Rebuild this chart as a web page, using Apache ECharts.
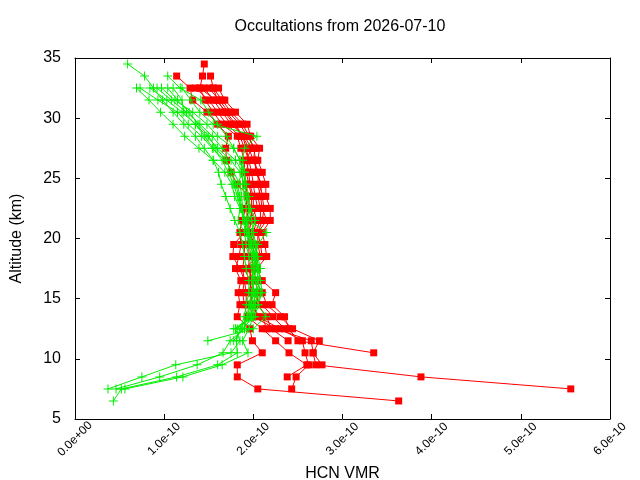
<!DOCTYPE html>
<html>
<head>
<meta charset="utf-8">
<script src="https://cdn.jsdelivr.net/npm/echarts@6/dist/echarts.min.js"></script>
<style>html,body{margin:0;padding:0;background:#fff}#chart{width:640px;height:480px}</style>
</head>
<body>
<div id="chart"></div>
<script>
// Altitude levels (km), top to bottom
const altitudes = [34.5,33.5,32.5,31.5,30.5,29.5,28.5,27.5,26.5,25.5,24.5,23.5,22.5,21.5,20.5,19.5,18.5,17.5,16.5,15.5,14.5,13.5,12.5,11.5,10.5,9.5,8.5,7.5,6.5];
// HCN VMR values in units of 1e-10 (null = no data at that level)
const red1 = [1.45,1.43,1.40,1.46,1.55,1.65,1.82,1.86,1.90,1.90,1.92,1.93,1.92,1.87,1.85,1.86,1.84,1.80,1.86,1.83,1.85,1.82,1.96,1.99,2.10,1.82,1.82,2.05,3.63];
const red2 = [null,1.14,1.29,1.32,1.48,1.60,1.72,1.69,1.70,1.75,1.82,1.95,1.95,1.92,1.90,1.78,1.77,1.85,1.90,1.88,1.90,1.93,2.10,2.25,2.40,2.60,2.38,null,null];
const red3 = [null,1.52,1.55,1.60,1.68,1.78,1.88,1.95,2.00,2.05,2.08,2.10,2.12,2.10,2.05,2.05,2.08,2.00,2.03,2.10,2.15,2.30,2.44,2.74,2.67,2.70,3.88,5.56,null];
const red4 = [null,null,1.61,1.68,1.80,1.93,1.97,2.07,2.05,2.10,2.14,2.14,2.19,2.19,2.10,2.13,2.15,2.04,2.10,2.25,2.21,2.35,2.40,2.50,3.35,null,null,null,null];
const red5 = [null,null,1.35,1.50,1.60,1.70,1.85,1.90,1.95,1.98,2.00,2.02,2.05,1.95,1.95,1.95,1.95,1.95,1.98,1.95,2.00,2.05,2.30,2.55,2.58,2.62,2.48,2.43,null];
const red6 = [null,null,1.45,1.55,1.65,1.75,1.90,1.98,1.92,1.95,1.96,2.00,2.00,2.04,2.00,2.00,2.00,1.98,1.95,2.00,1.95,2.00,2.25,2.65,2.67,2.77,null,null,null];
const red7 = [null,null,1.50,1.62,1.72,1.85,1.93,2.02,2.00,2.06,2.05,2.08,2.10,2.15,2.05,2.08,2.10,1.92,2.03,2.05,2.05,2.15,2.20,2.39,null,null,null,null,null];
const red8 = [null,null,1.55,1.65,1.75,1.88,1.95,2.00,2.03,2.02,2.10,2.05,2.08,2.08,2.02,1.90,1.90,1.88,1.90,1.92,1.92,2.10,2.15,null,null,null,null,null,null];
const red9 = [null,null,1.40,1.58,1.70,1.80,1.88,1.92,1.95,1.92,1.95,1.98,1.98,1.98,1.95,2.02,2.05,1.90,1.96,1.98,2.10,2.22,2.35,null,null,null,null,null,null];

const green1 = [0.59,0.78,0.88,0.98,1.10,1.22,1.35,1.45,1.55,1.61,1.64,1.69,1.74,1.79,1.85,1.88,1.90,1.92,1.95,1.95,1.92,1.90,1.85,1.81,1.82,1.60,1.14,0.52,0.43];
const green2 = [null,1.04,1.18,1.41,1.50,1.60,1.70,1.78,1.85,1.90,1.90,1.92,1.95,1.98,2.00,2.03,2.05,2.08,2.06,2.05,2.02,2.00,1.95,1.88,1.94,1.65,1.21,0.56,null];
const green3 = [null,null,0.69,0.83,0.96,1.10,1.23,1.39,1.55,1.68,1.76,1.79,1.85,1.83,1.90,1.92,1.95,1.98,2.00,1.98,1.95,1.93,1.90,1.74,1.66,1.37,0.95,0.46,null];
const green4 = [null,null,0.73,0.93,1.15,1.27,1.42,1.54,1.68,1.78,1.85,1.87,1.88,1.90,1.95,1.97,2.00,2.02,1.98,2.02,2.00,1.97,1.80,1.85,1.75,1.13,0.75,0.37,null];
const green5 = [null,null,0.84,1.03,1.20,1.35,1.48,1.60,1.75,1.85,1.90,1.93,1.95,1.95,2.15,2.05,2.00,2.05,2.05,2.08,2.05,2.14,2.00,1.49,null,null,null,null,null];
const green6 = [null,null,0.92,1.08,1.25,1.40,1.54,1.65,1.80,1.88,1.88,1.90,1.92,1.93,1.95,1.98,2.02,2.00,2.02,2.05,2.02,2.00,1.88,1.78,null,null,null,null,null];
const green7 = [null,null,0.97,1.12,1.32,1.48,1.60,1.78,1.85,1.88,1.82,1.85,1.87,1.88,1.92,1.95,1.98,2.00,1.98,2.00,1.98,1.95,1.82,null,null,null,null,null,null];
const green8 = [null,null,1.04,1.15,1.28,1.38,1.50,1.58,1.70,1.75,1.80,1.84,1.86,1.90,1.93,1.97,2.00,2.04,2.00,2.00,1.97,1.93,1.86,null,null,null,null,null,null];
const green9 = [null,null,1.10,1.20,1.22,1.35,1.45,1.55,1.65,1.72,1.78,1.82,1.86,1.92,1.95,2.00,2.02,2.06,2.04,2.03,2.00,1.98,1.90,null,null,null,null,null,null];
const green10 = [null,null,1.20,1.30,1.40,1.55,2.04,1.90,1.88,1.90,1.92,1.95,1.97,2.02,1.98,2.02,2.04,2.06,2.08,2.10,2.05,2.02,1.78,null,null,null,null,null,null];

const redProfiles = [red1,red2,red3,red4,red5,red6,red7,red8,red9];
const greenProfiles = [green1,green2,green3,green4,green5,green6,green7,green8,green9,green10];

const FONT = 'Liberation Sans';
function toPairs(vals){
  const out = [];
  vals.forEach((v,i)=>{ if(v!==null) out.push([v, altitudes[i]]); });
  return out;
}
function fmtX(v){
  if (Math.abs(v) < 1e-9) return '0.0e+00';
  return v.toFixed(1) + 'e-10';
}
const plus = 'path://M0,4h9v1h-9z M4,0h1v9h-1z';
const series = [];
redProfiles.forEach((p,i)=>{
  series.push({type:'line', name:'red'+i, data:toPairs(p), symbol:'rect', symbolSize:7,
    lineStyle:{color:'#ff0000', width:1}, itemStyle:{color:'#ff0000'}, showSymbol:true, z:2});
});
greenProfiles.forEach((p,i)=>{
  series.push({type:'line', name:'green'+i, data:toPairs(p), symbol:plus, symbolSize:9,
    lineStyle:{color:'#00ee00', width:1}, itemStyle:{color:'#00ee00'}, showSymbol:true, z:3});
});

const chart = echarts.init(document.getElementById('chart'), null, {renderer:'canvas'});
chart.setOption({
  animation:false,
  backgroundColor:'#ffffff',
  title:{text:'Occultations from 2026-07-10', left:335, top:14, textAlign:'center',
    textStyle:{fontFamily:FONT, fontSize:16, fontWeight:'normal', color:'#000'}},
  grid:{left:75, right:30, top:58, bottom:61, containLabel:false, outerBoundsMode:'none'},
  xAxis:[{type:'value', min:0, max:6, interval:1, position:'bottom',
      name:'HCN VMR', nameLocation:'middle', nameGap:38,
      nameTextStyle:{fontFamily:FONT, fontSize:16, color:'#000'},
      axisLine:{show:true, onZero:false, lineStyle:{color:'#000', width:1}},
      axisTick:{show:true, inside:true, length:5, lineStyle:{color:'#000'}},
      axisLabel:{show:true, rotate:45, margin:20, align:'center', verticalAlign:'middle',
        formatter:fmtX, fontFamily:FONT, fontSize:12, color:'#000'},
      splitLine:{show:false}},
    {type:'value', min:0, max:6, interval:1, position:'top',
      axisLine:{show:true, onZero:false, lineStyle:{color:'#000', width:1}},
      axisTick:{show:true, inside:true, length:5, lineStyle:{color:'#000'}},
      axisLabel:{show:false}, splitLine:{show:false}}],
  yAxis:[{type:'value', min:5, max:35, interval:5, position:'left',
      name:'Altitude (km)', nameLocation:'middle', nameGap:50, nameRotate:90,
      nameTextStyle:{fontFamily:FONT, fontSize:16, color:'#000'},
      axisLine:{show:true, onZero:false, lineStyle:{color:'#000', width:1}},
      axisTick:{show:true, inside:true, length:5, lineStyle:{color:'#000'}},
      axisLabel:{show:true, margin:14, fontFamily:FONT, fontSize:16, color:'#000'},
      splitLine:{show:false}},
    {type:'value', min:5, max:35, interval:5, position:'right',
      axisLine:{show:true, onZero:false, lineStyle:{color:'#000', width:1}},
      axisTick:{show:true, inside:true, length:5, lineStyle:{color:'#000'}},
      axisLabel:{show:false}, splitLine:{show:false}}],
  series:series
});
</script>
</body>
</html>
